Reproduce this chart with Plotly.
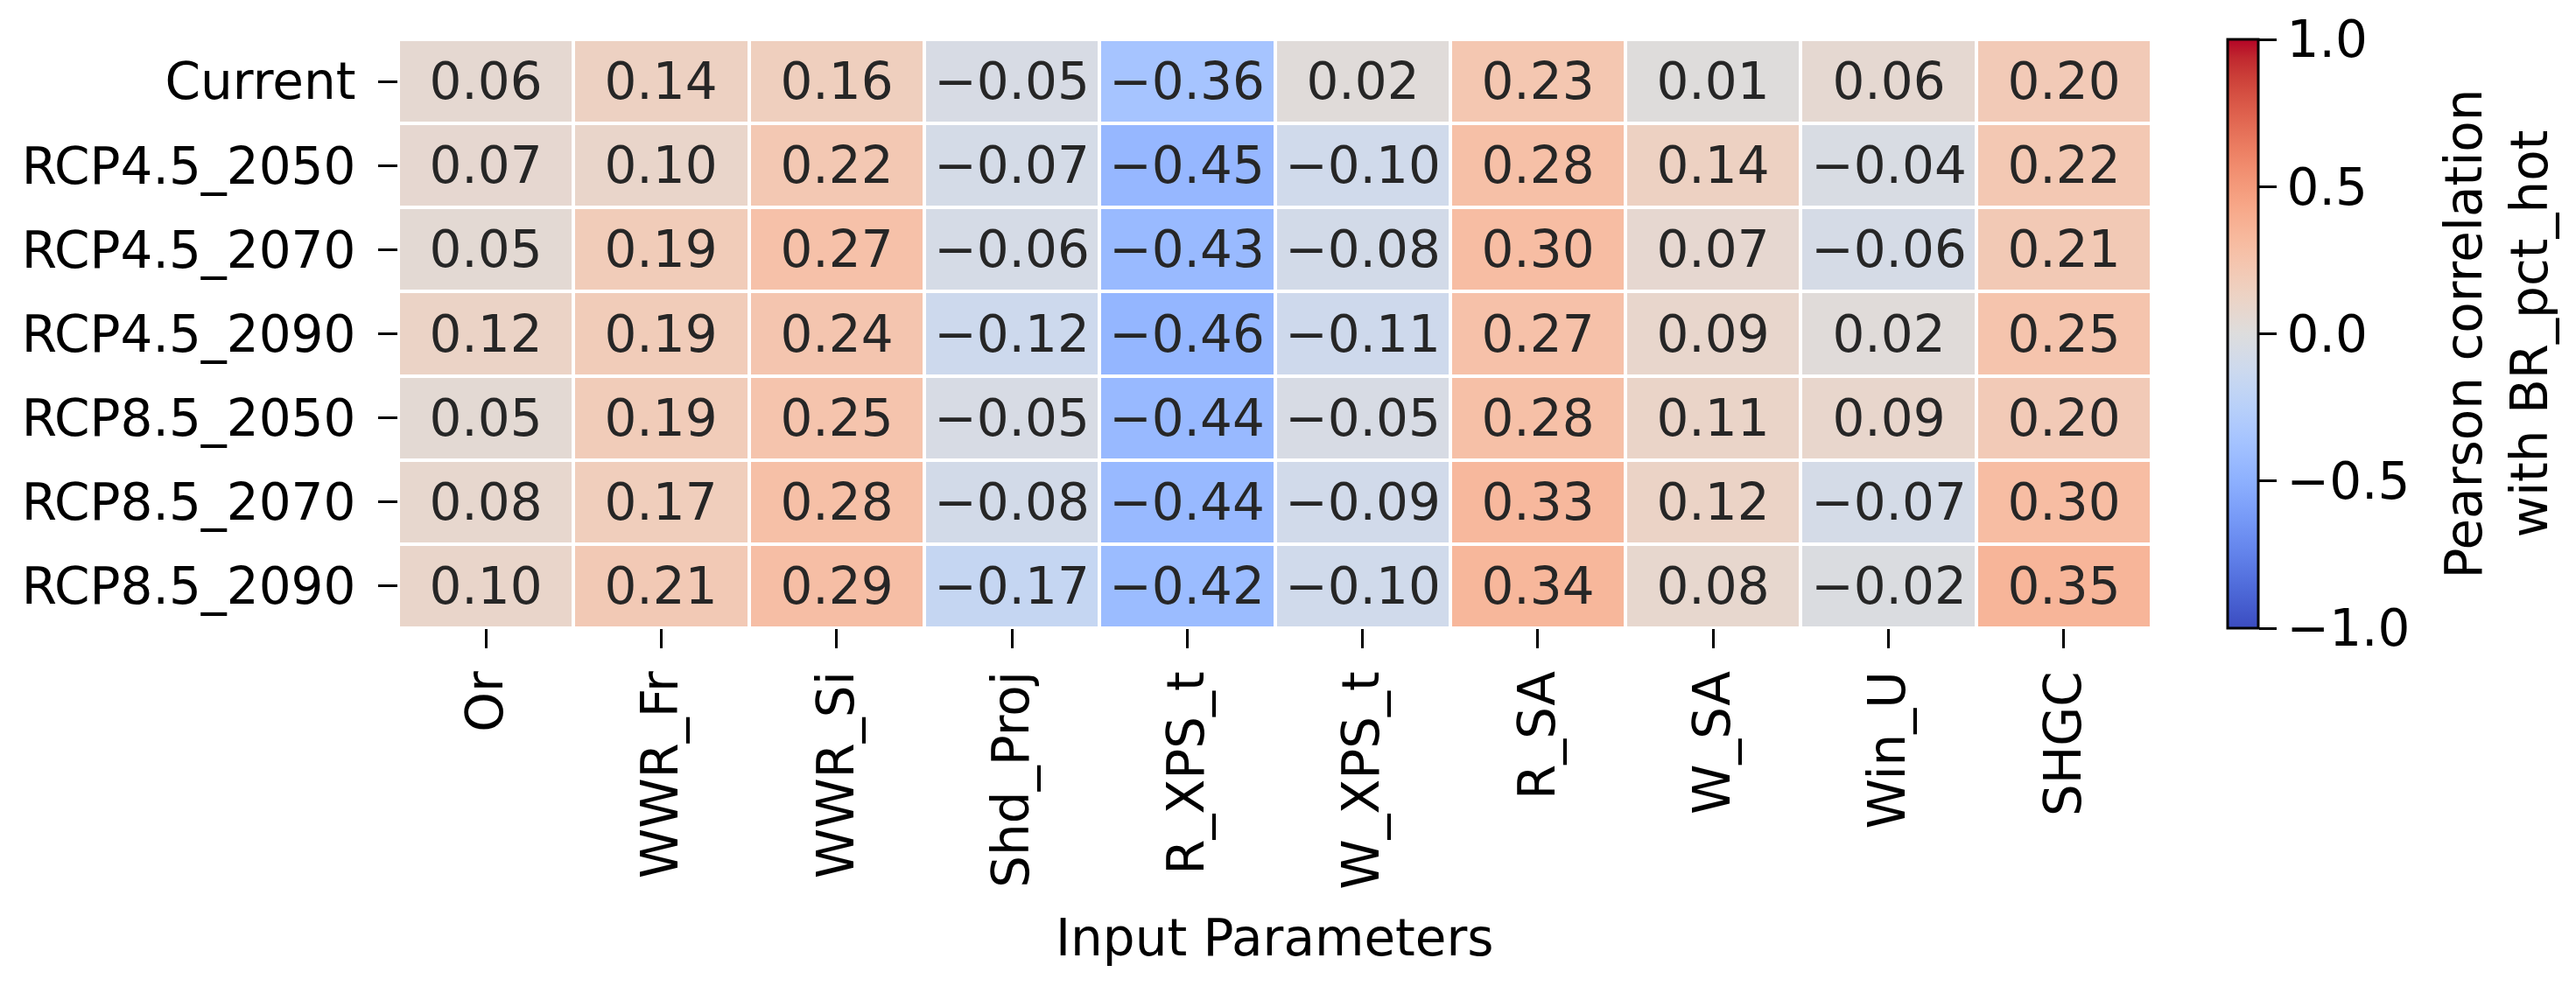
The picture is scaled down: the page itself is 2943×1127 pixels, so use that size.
import plotly.graph_objects as go

scenarios = ["Current", "RCP4.5_2050", "RCP4.5_2070", "RCP4.5_2090",
             "RCP8.5_2050", "RCP8.5_2070", "RCP8.5_2090"]
parameters = ["Or", "WWR_Fr", "WWR_Si", "Shd_Proj", "R_XPS_t", "W_XPS_t",
              "R_SA", "W_SA", "Win_U", "SHGC"]

current     = [0.06, 0.14, 0.16, -0.05, -0.36,  0.02, 0.23, 0.01,  0.06, 0.20]
rcp45_2050  = [0.07, 0.10, 0.22, -0.07, -0.45, -0.10, 0.28, 0.14, -0.04, 0.22]
rcp45_2070  = [0.05, 0.19, 0.27, -0.06, -0.43, -0.08, 0.30, 0.07, -0.06, 0.21]
rcp45_2090  = [0.12, 0.19, 0.24, -0.12, -0.46, -0.11, 0.27, 0.09,  0.02, 0.25]
rcp85_2050  = [0.05, 0.19, 0.25, -0.05, -0.44, -0.05, 0.28, 0.11,  0.09, 0.20]
rcp85_2070  = [0.08, 0.17, 0.28, -0.08, -0.44, -0.09, 0.33, 0.12, -0.07, 0.30]
rcp85_2090  = [0.10, 0.21, 0.29, -0.17, -0.42, -0.10, 0.34, 0.08, -0.02, 0.35]

z = [current, rcp45_2050, rcp45_2070, rcp45_2090, rcp85_2050, rcp85_2070, rcp85_2090]

cbar_ticks = [-1.0, -0.5, 0.0, 0.5, 1.0]
cbar_ticktext = ["\u22121.0", "\u22120.5", "0.0", "0.5", "1.0"]


def fmt(v):
    s = f"{v:.2f}"
    return s.replace("-", "\u2212")


text = [[fmt(v) for v in row] for row in z]

coolwarm_rgb = [
    (59, 76, 192), (68, 90, 204), (77, 104, 215), (87, 117, 225),
    (98, 130, 234), (108, 142, 241), (119, 154, 247), (130, 165, 251),
    (141, 176, 254), (152, 185, 255), (163, 194, 255), (174, 201, 253),
    (184, 208, 249), (194, 213, 244), (204, 217, 238), (213, 219, 230),
    (221, 221, 221), (229, 216, 209), (236, 211, 197), (241, 204, 185),
    (245, 196, 173), (247, 187, 160), (247, 177, 148), (247, 166, 135),
    (244, 154, 123), (241, 141, 111), (236, 127, 99), (229, 112, 88),
    (222, 96, 77), (213, 80, 66), (203, 62, 56), (192, 40, 47), (180, 4, 38),
]
n = len(coolwarm_rgb) - 1
colorscale = [[i / n, f"rgb({r},{g},{b})"] for i, (r, g, b) in enumerate(coolwarm_rgb)]

FONT = "DejaVu Sans"
FS = 58

fig = go.Figure(go.Heatmap(
    z=z, x=parameters, y=scenarios,
    zmin=-1, zmax=1, colorscale=colorscale,
    text=text, texttemplate="%{text}",
    textfont=dict(family=FONT, size=FS, color="#262626"),
    xgap=4, ygap=4,
    colorbar=dict(
        x=(2545 - 455) / 2003, xanchor="left", xpad=0, ypad=0,
        y=0.5, yanchor="middle", len=1, lenmode="fraction",
        thickness=35, outlinewidth=3, outlinecolor="black",
        tickmode="array", tickvals=cbar_ticks, ticktext=cbar_ticktext,
        ticks="outside", ticklen=20, tickwidth=3, tickcolor="black",
        tickfont=dict(family=FONT, size=FS, color="black"),
    ),
))

fig.add_annotation(
    text="Pearson correlation<br>with BR_pct_hot",
    textangle=-90, xref="paper", yref="paper",
    x=(2852 - 455) / 2003, y=0.5, xanchor="center", yanchor="middle",
    showarrow=False, font=dict(family=FONT, size=FS, color="black"),
)

fig.add_annotation(
    text="Input Parameters", xref="paper", yref="paper",
    x=0.5, y=(718 - 1072) / 673, xanchor="center", yanchor="middle",
    showarrow=False, font=dict(family=FONT, size=FS, color="black"),
)

fig.update_layout(
    width=2943, height=1127,
    margin=dict(l=455, r=2943 - 2458, t=45, b=1127 - 718, pad=0),
    paper_bgcolor="white", plot_bgcolor="white",
    font=dict(family=FONT, size=FS, color="black"),
)
fig.update_xaxes(
    tickangle=-90, ticks="outside", ticklen=22, tickwidth=3, tickcolor="black",
    ticklabelstandoff=3,
    tickfont=dict(family=FONT, size=FS, color="black"),
    showgrid=False, zeroline=False, showline=False, automargin=False,
)
fig.update_yaxes(
    autorange="reversed", ticks="outside", ticklen=22, tickwidth=3, tickcolor="black",
    ticklabelstandoff=14,
    tickfont=dict(family=FONT, size=FS, color="black"),
    showgrid=False, zeroline=False, showline=False, automargin=False,
)

fig.write_html("out.html")
